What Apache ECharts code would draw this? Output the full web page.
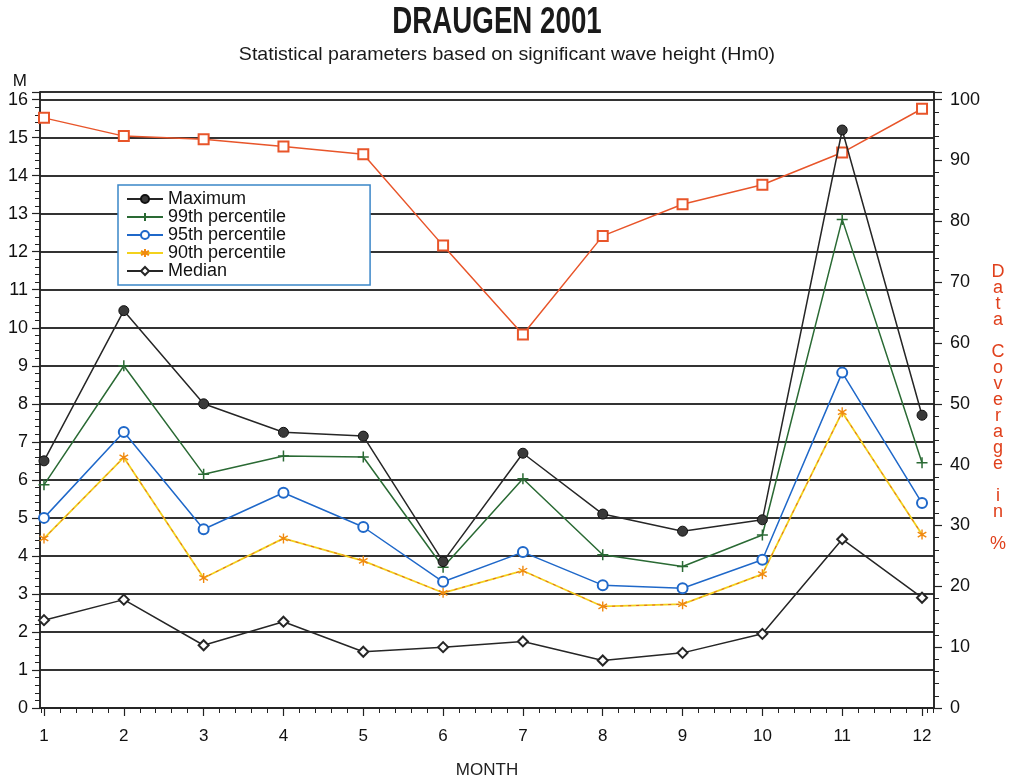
<!DOCTYPE html>
<html>
<head>
<meta charset="utf-8">
<script src="https://cdn.jsdelivr.net/npm/echarts@6/dist/echarts.min.js"></script>
<style>html,body{margin:0;padding:0;background:#fff}#c{width:1009px;height:779px}</style>
</head>
<body>
<div id="c"></div>
<script>
const months = [1,2,3,4,5,6,7,8,9,10,11,12];
const maximum =  [6.5, 10.45, 8.0, 7.25, 7.15, 3.85, 6.7, 5.1, 4.65, 4.95, 15.2, 7.7];
const p99 =      [5.87, 9.0, 6.15, 6.63, 6.6, 3.7, 6.03, 4.03, 3.72, 4.55, 12.85, 6.45];
const p95 =      [5.0, 7.26, 4.7, 5.66, 4.76, 3.32, 4.1, 3.23, 3.15, 3.9, 8.82, 5.39];
const p90 =      [4.46, 6.59, 3.42, 4.46, 3.87, 3.03, 3.61, 2.67, 2.73, 3.52, 7.78, 4.56];
const median =   [2.31, 2.85, 1.65, 2.27, 1.48, 1.6, 1.75, 1.25, 1.45, 1.95, 4.44, 2.9];
const coverage = [97, 94, 93.5, 92.3, 91, 76, 61.4, 77.6, 82.8, 86, 91.3, 98.5];
const monthTicks = [1,2,3,4,5,6,7,8,9,10,11,12];
const minorMonthTicks = [];
for (let m = 1; m < 12; m++) { for (let k = 1; k < 5; k++) minorMonthTicks.push(+(m + k*0.2).toFixed(2)); }
minorMonthTicks.unshift(0.96); minorMonthTicks.push(12.07,12.14);

const pair = arr => arr.map((v,i)=>[months[i], v]);
const font = 'Liberation Sans, Arial, sans-serif';
const plus = 'path://M5,0 L5,10 M0,5 L10,5';
const star = 'path://M5,0 L5,10 M0.7,2.5 L9.3,7.5 M0.7,7.5 L9.3,2.5';

const chart = echarts.init(document.getElementById('c'), null, {renderer:'canvas'});
chart.setOption({
  animation: false,
  backgroundColor: '#fff',
  graphic: [
    {type: 'text', x: 497, y: 23, scaleX: 0.77, silent: true,
     style: {text: 'DRAUGEN 2001', font: 'bold 36px "Liberation Sans", Arial, sans-serif', fill: '#1a1a1a', textAlign: 'center', textVerticalAlign: 'middle'}},
    {type: 'text', x: 507, y: 55, scaleX: 1.03, silent: true,
     style: {text: 'Statistical parameters based on significant wave height (Hm0)', font: '19px "Liberation Sans", Arial, sans-serif', fill: '#1a1a1a', textAlign: 'center', textVerticalAlign: 'middle'}}
  ],
  grid: {left: 40, right: 75, top: 92, bottom: 71, outerBoundsMode: 'none', containLabel: false,
         show: true, borderColor: '#222', borderWidth: 1.5, backgroundColor: 'transparent'},
  legend: {
    orient: 'vertical', left: 118, top: 185,
    padding: [5, 84, 5, 8], itemGap: 0, itemWidth: 36, itemHeight: 10,
    backgroundColor: '#fff', borderColor: '#3a86c8', borderWidth: 1.5,
    textStyle: {fontFamily: font, fontSize: 18, lineHeight: 17, color: '#111'},
    data: ['Maximum','99th percentile','95th percentile','90th percentile','Median']
  },
  xAxis: [
    {type: 'value', min: 0.95, max: 12.15, name: 'MONTH', nameLocation: 'middle', nameGap: 54,
     nameTextStyle: {fontFamily: font, fontSize: 17, color: '#222'},
     axisLine: {show: true, lineStyle: {color: '#222', width: 1.5}},
     axisTick: {show: true, length: 8, customValues: monthTicks, lineStyle: {color: '#222', width: 1.2}},
     axisLabel: {customValues: monthTicks, margin: 20, fontFamily: font, fontSize: 17, color: '#111'},
     splitLine: {show: false}},
    {type: 'value', min: 0.95, max: 12.15, position: 'bottom',
     axisLine: {show: false},
     axisTick: {show: true, length: 5, customValues: minorMonthTicks, lineStyle: {color: '#222', width: 1}},
     axisLabel: {show: false}, splitLine: {show: false}}
  ],
  yAxis: [
    {type: 'value', min: 0, max: 16.2, interval: 1, position: 'left',
     name: 'M', nameLocation: 'end', nameGap: 2,
     nameTextStyle: {fontFamily: font, fontSize: 17, color: '#111', align: 'right', padding: [0, 13, 0, 0]},
     axisLine: {show: true, lineStyle: {color: '#222', width: 1.5}},
     axisTick: {show: true, length: 8, lineStyle: {color: '#222', width: 1.2}},
     minorTick: {show: true, splitNumber: 5, length: 5, lineStyle: {color: '#222', width: 1}},
     axisLabel: {showMaxLabel: false, margin: 12, fontFamily: font, fontSize: 18, color: '#111'},
     splitLine: {show: true, lineStyle: {color: '#333', width: 1.8}}},
    {type: 'value', min: 0, max: 101.25, interval: 10, position: 'right',
     name: '\nD\na\nt\na\n\nC\no\nv\ne\nr\na\ng\ne\n\ni\nn\n\n%', nameLocation: 'middle', nameGap: 64, nameRotate: 0,
     nameTextStyle: {fontFamily: font, fontSize: 18, lineHeight: 16, color: '#e0401c', align: 'center', verticalAlign: 'middle'},
     axisLine: {show: true, lineStyle: {color: '#222', width: 1.5}},
     axisTick: {show: true, length: 8, lineStyle: {color: '#222', width: 1.2}},
     minorTick: {show: true, splitNumber: 5, length: 5, lineStyle: {color: '#222', width: 1}},
     axisLabel: {showMaxLabel: false, margin: 16, fontFamily: font, fontSize: 18, color: '#111'},
     splitLine: {show: false}}
  ],
  series: [
    {name: 'Maximum', type: 'line', data: pair(maximum), symbol: 'circle', symbolSize: 10,
     lineStyle: {color: '#262626', width: 1.5}, itemStyle: {color: '#3a3a3a', borderColor: '#111', borderWidth: 1}, z: 5},
    {name: '99th percentile', type: 'line', data: pair(p99), symbol: plus, symbolSize: 11, symbolKeepAspect: true,
     lineStyle: {color: '#2a6a34', width: 1.5}, itemStyle: {color: 'none', borderColor: '#2a6a34', borderWidth: 1.5}, z: 4},
    {name: '95th percentile', type: 'line', data: pair(p95), symbol: 'emptyCircle', symbolSize: 10,
     lineStyle: {color: '#1f68c9', width: 1.5}, itemStyle: {color: '#1f68c9', borderWidth: 1.5}, z: 4},
    {name: '90th percentile', type: 'line', data: pair(p90), symbol: star, symbolSize: 10, symbolKeepAspect: true,
     lineStyle: {color: '#f3d21c', width: 1.8}, itemStyle: {color: 'none', borderColor: '#f08a10', borderWidth: 1.4}, z: 3},
    {name: '90th dash', type: 'line', data: pair(p90), symbol: 'none', silent: true,
     lineStyle: {color: '#e0602a', width: 1, type: [3, 5]}, z: 3},
    {name: 'Median', type: 'line', data: pair(median), symbol: 'emptyDiamond', symbolSize: 10,
     lineStyle: {color: '#262626', width: 1.5}, itemStyle: {color: '#262626', borderWidth: 1.3}, z: 4},
    {name: 'Data coverage', type: 'line', yAxisIndex: 1, data: pair(coverage), symbol: 'emptyRect', symbolSize: 10,
     lineStyle: {color: '#e8552a', width: 1.5}, itemStyle: {color: '#e8552a', borderWidth: 1.3}, z: 4}
  ]
});
</script>
</body>
</html>
